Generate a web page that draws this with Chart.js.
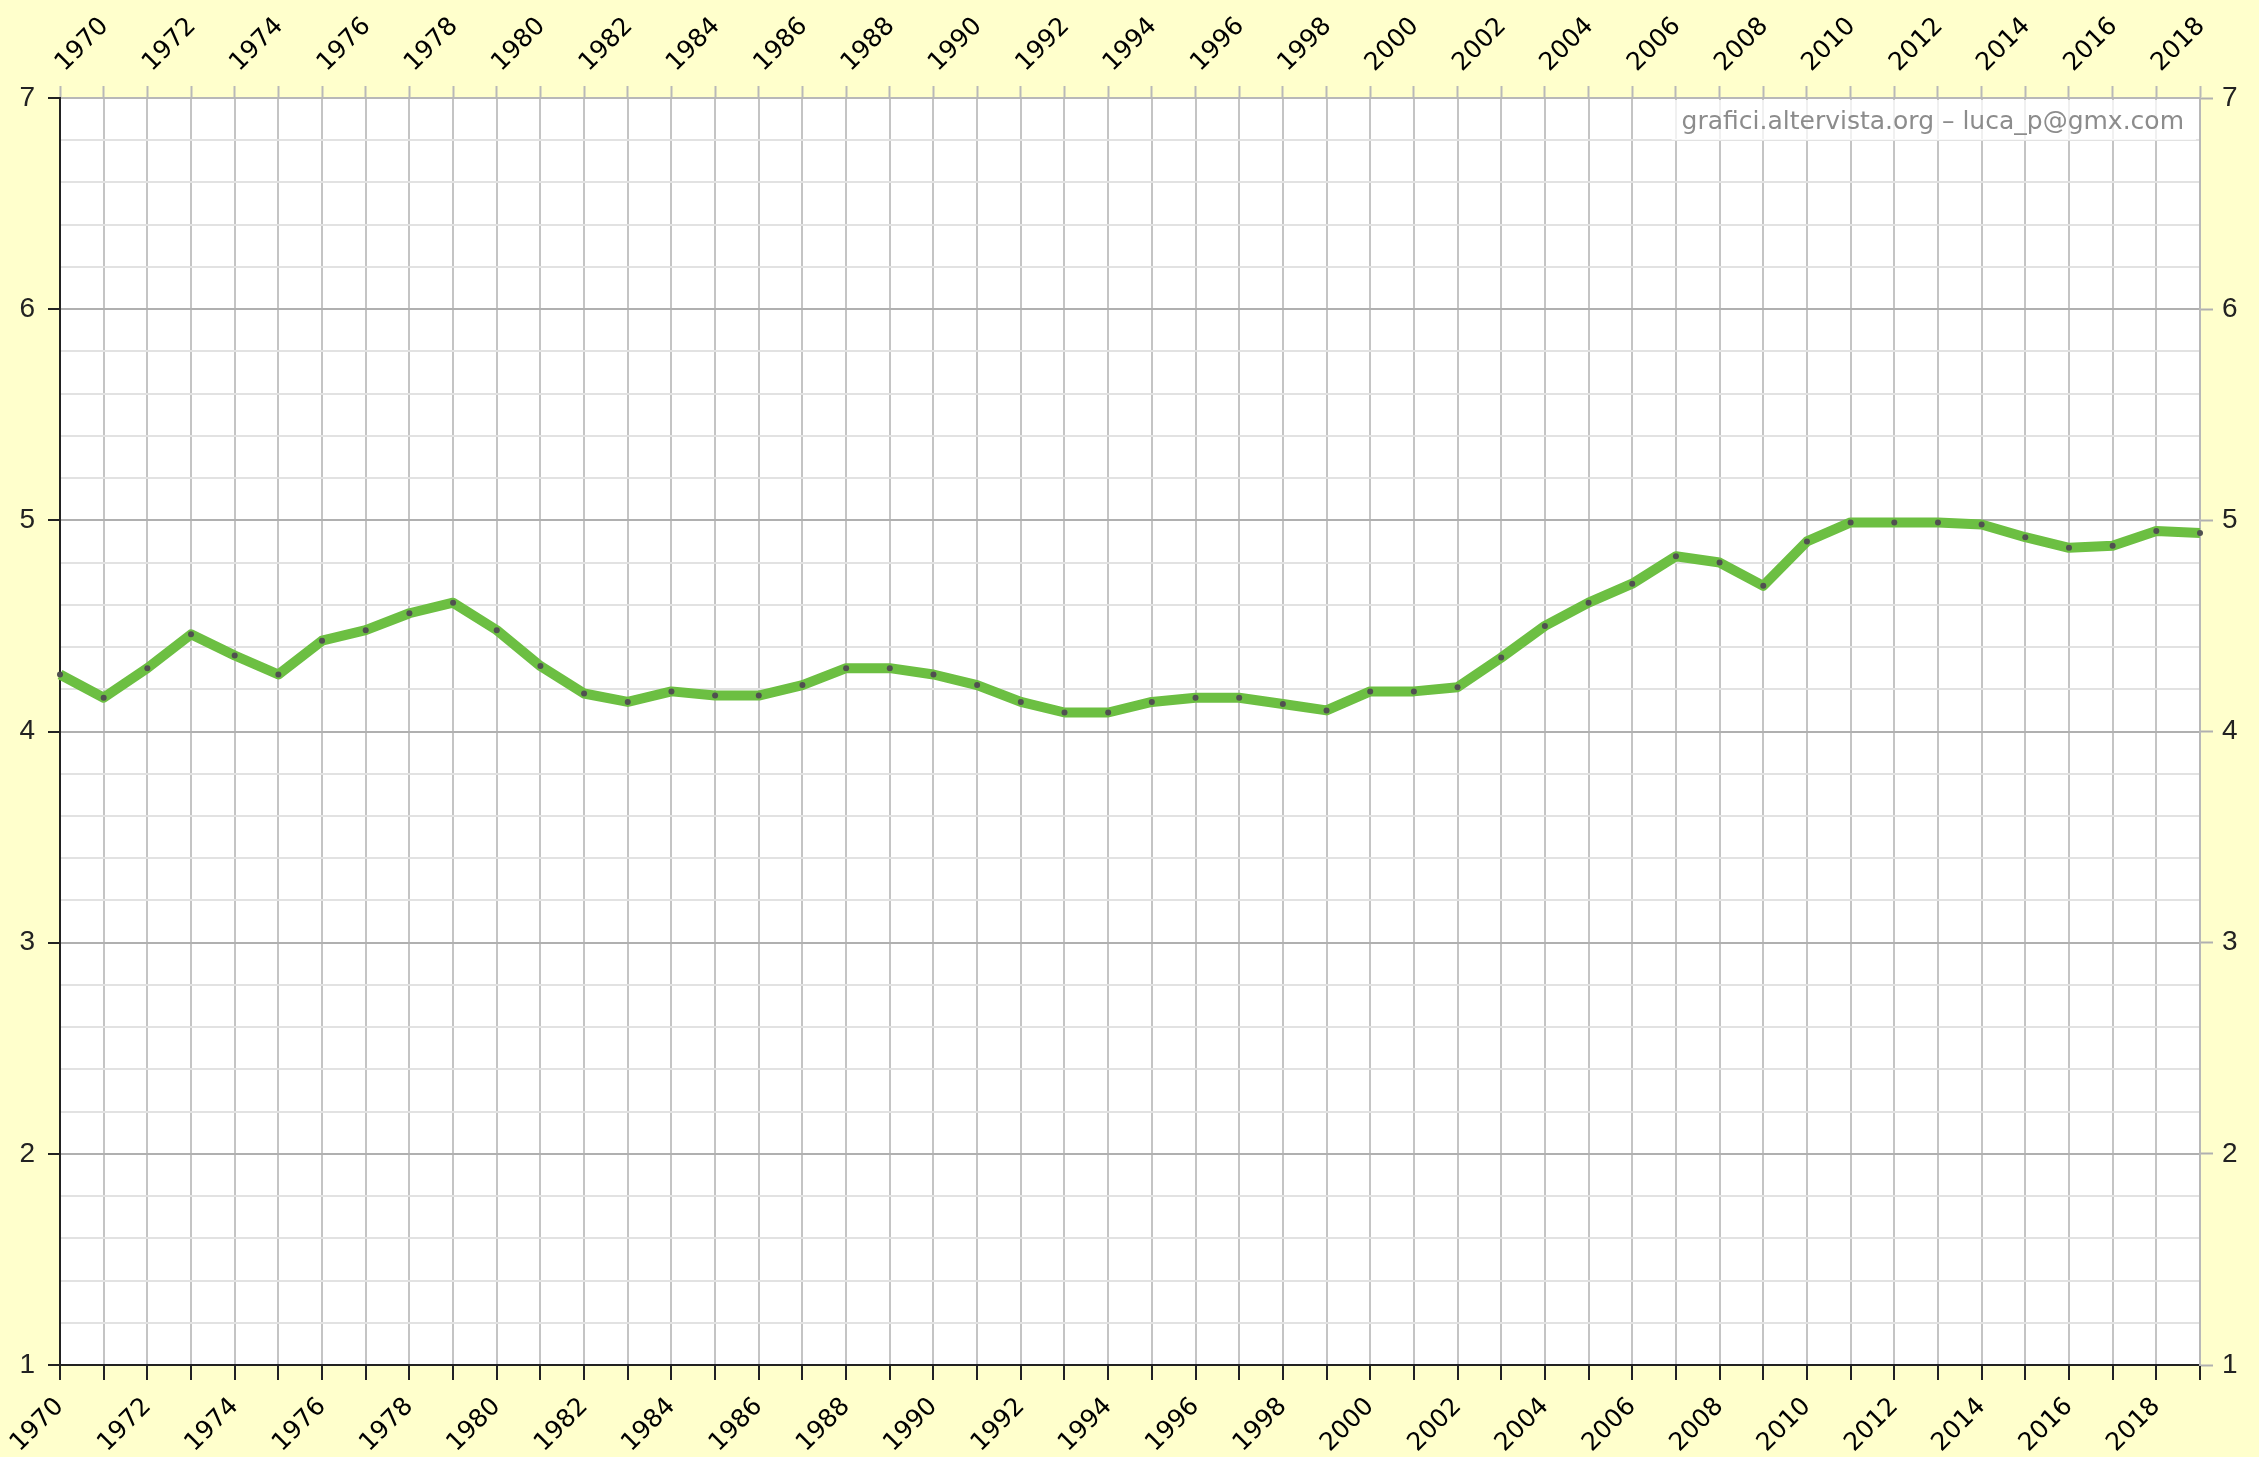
<!DOCTYPE html>
<html>
<head>
<meta charset="utf-8">
<script src="https://cdn.jsdelivr.net/npm/chart.js@4/dist/chart.umd.min.js"></script>
<style>
  html, body { margin: 0; padding: 0; background: #ffffcc; }
  #wrap { width: 2259px; height: 1457px; }
</style>
</head>
<body>
<div id="wrap"><canvas id="c" width="2259" height="1457"></canvas></div>
<script>
// ---- data ----
const years = [
  '1970','1971','1972','1973','1974','1975','1976','1977','1978','1979',
  '1980','1981','1982','1983','1984','1985','1986','1987','1988','1989',
  '1990','1991','1992','1993','1994','1995','1996','1997','1998','1999',
  '2000','2001','2002','2003','2004','2005','2006','2007','2008','2009',
  '2010','2011','2012','2013','2014','2015','2016','2017','2018','2019'
];
const values = [
  4.27, 4.16, 4.30, 4.46, 4.36, 4.27, 4.43, 4.48, 4.56, 4.61,
  4.48, 4.31, 4.18, 4.14, 4.19, 4.17, 4.17, 4.22, 4.30, 4.30,
  4.27, 4.22, 4.14, 4.09, 4.09, 4.14, 4.16, 4.16, 4.13, 4.10,
  4.19, 4.19, 4.21, 4.35, 4.50, 4.61, 4.70, 4.83, 4.80, 4.69,
  4.90, 4.99, 4.99, 4.99, 4.98, 4.92, 4.87, 4.88, 4.95, 4.94
];
const yMin = 1;
const yMax = 7;
const yStep = 0.2;
const watermark = 'grafici.altervista.org \u2013 luca_p@gmx.com';

// ---- helpers ----
const isMajor = v => Math.abs(v - Math.round(v)) < 1e-6;
const everyOther = (v, i) => (i % 2 === 0 ? years[i] : '');
const intLabel = v => (isMajor(v) ? String(Math.round(v)) : '');

const bgPlugin = {
  id: 'bg',
  beforeDraw(chart) {
    const { ctx, chartArea: a } = chart;
    ctx.save();
    ctx.fillStyle = '#ffffcc';
    ctx.fillRect(0, 0, chart.width, chart.height);
    ctx.fillStyle = '#ffffff';
    ctx.fillRect(a.left, a.top, a.right - a.left, a.bottom - a.top);
    ctx.restore();
  },
  afterDraw(chart) {
    const { ctx, chartArea: a } = chart;
    ctx.save();
    ctx.font = '25px "DejaVu Sans"';
    const w = ctx.measureText(watermark).width;
    const xr = a.right - 16;
    ctx.fillStyle = 'rgba(255,255,255,0.75)';
    ctx.fillRect(xr - w - 10, a.top + 2, w + 22, 40);
    ctx.fillStyle = '#8c8c8c';
    ctx.textAlign = 'right';
    ctx.textBaseline = 'alphabetic';
    ctx.fillText(watermark, xr, a.top + 31);
    ctx.restore();
  }
};

const xFont = { family: '"DejaVu Sans"', size: 25 };
const yFont = { family: '"Liberation Sans"', size: 28 };

new Chart(document.getElementById('c'), {
  type: 'line',
  data: {
    labels: years,
    datasets: [{
      data: values,
      borderColor: '#6cbf42',
      borderWidth: 10,
      tension: 0,
      fill: false,
      pointRadius: 3,
      pointBackgroundColor: '#505050',
      pointBorderWidth: 0,
      pointHoverRadius: 3,
      borderJoinStyle: 'round',
      xAxisID: 'x',
      yAxisID: 'y'
    }]
  },
  options: {
    responsive: false,
    devicePixelRatio: 1,
    animation: false,
    events: [],
    layout: { padding: 0 },
    plugins: { legend: { display: false }, tooltip: { enabled: false } },
    scales: {
      x: {
        type: 'category',
        position: 'bottom',
        offset: false,
        grid: {
          color: '#c4c4c4', lineWidth: 2,
          drawTicks: true, tickLength: 15, tickColor: '#222', tickWidth: 2
        },
        border: { color: '#222', width: 2 },
        ticks: {
          autoSkip: false, minRotation: 45, maxRotation: 45,
          padding: 12, color: '#000', font: xFont, callback: everyOther
        },
        afterFit(s) { s.height = 92; }
      },
      x2: {
        type: 'category',
        position: 'top',
        offset: false,
        grid: {
          drawOnChartArea: false, drawTicks: true, tickLength: 12,
          tickColor: '#b8b8b8', tickWidth: 2
        },
        border: { color: '#b8b8b8', width: 2 },
        ticks: {
          autoSkip: false, minRotation: 45, maxRotation: 45,
          padding: 8, labelOffset: 21, color: '#000', font: xFont, callback: everyOther
        },
        afterFit(s) { s.height = 98; }
      },
      y: {
        type: 'linear',
        position: 'left',
        min: yMin, max: yMax,
        grid: {
          color: c => (isMajor(c.tick.value) ? '#b0b0b0' : '#e2e2e2'),
          lineWidth: 2,
          drawTicks: true, tickLength: 12,
          tickColor: c => (isMajor(c.tick.value) ? '#222' : 'rgba(0,0,0,0)'),
          tickWidth: 2
        },
        border: { color: '#222', width: 2 },
        ticks: {
          stepSize: yStep, autoSkip: false, padding: 13,
          color: '#222', font: yFont, callback: intLabel
        },
        afterFit(s) { s.width = 60; }
      },
      y2: {
        type: 'linear',
        position: 'right',
        min: yMin, max: yMax,
        grid: {
          drawOnChartArea: false, drawTicks: true, tickLength: 13,
          tickColor: c => (isMajor(c.tick.value) ? '#b0b0b0' : 'rgba(0,0,0,0)'),
          tickWidth: 2
        },
        border: { color: '#b8b8b8', width: 2 },
        ticks: {
          stepSize: yStep, autoSkip: false, padding: 9,
          color: '#222', font: yFont, callback: intLabel
        },
        afterFit(s) { s.width = 59; }
      }
    }
  },
  plugins: [bgPlugin]
});
</script>
</body>
</html>
